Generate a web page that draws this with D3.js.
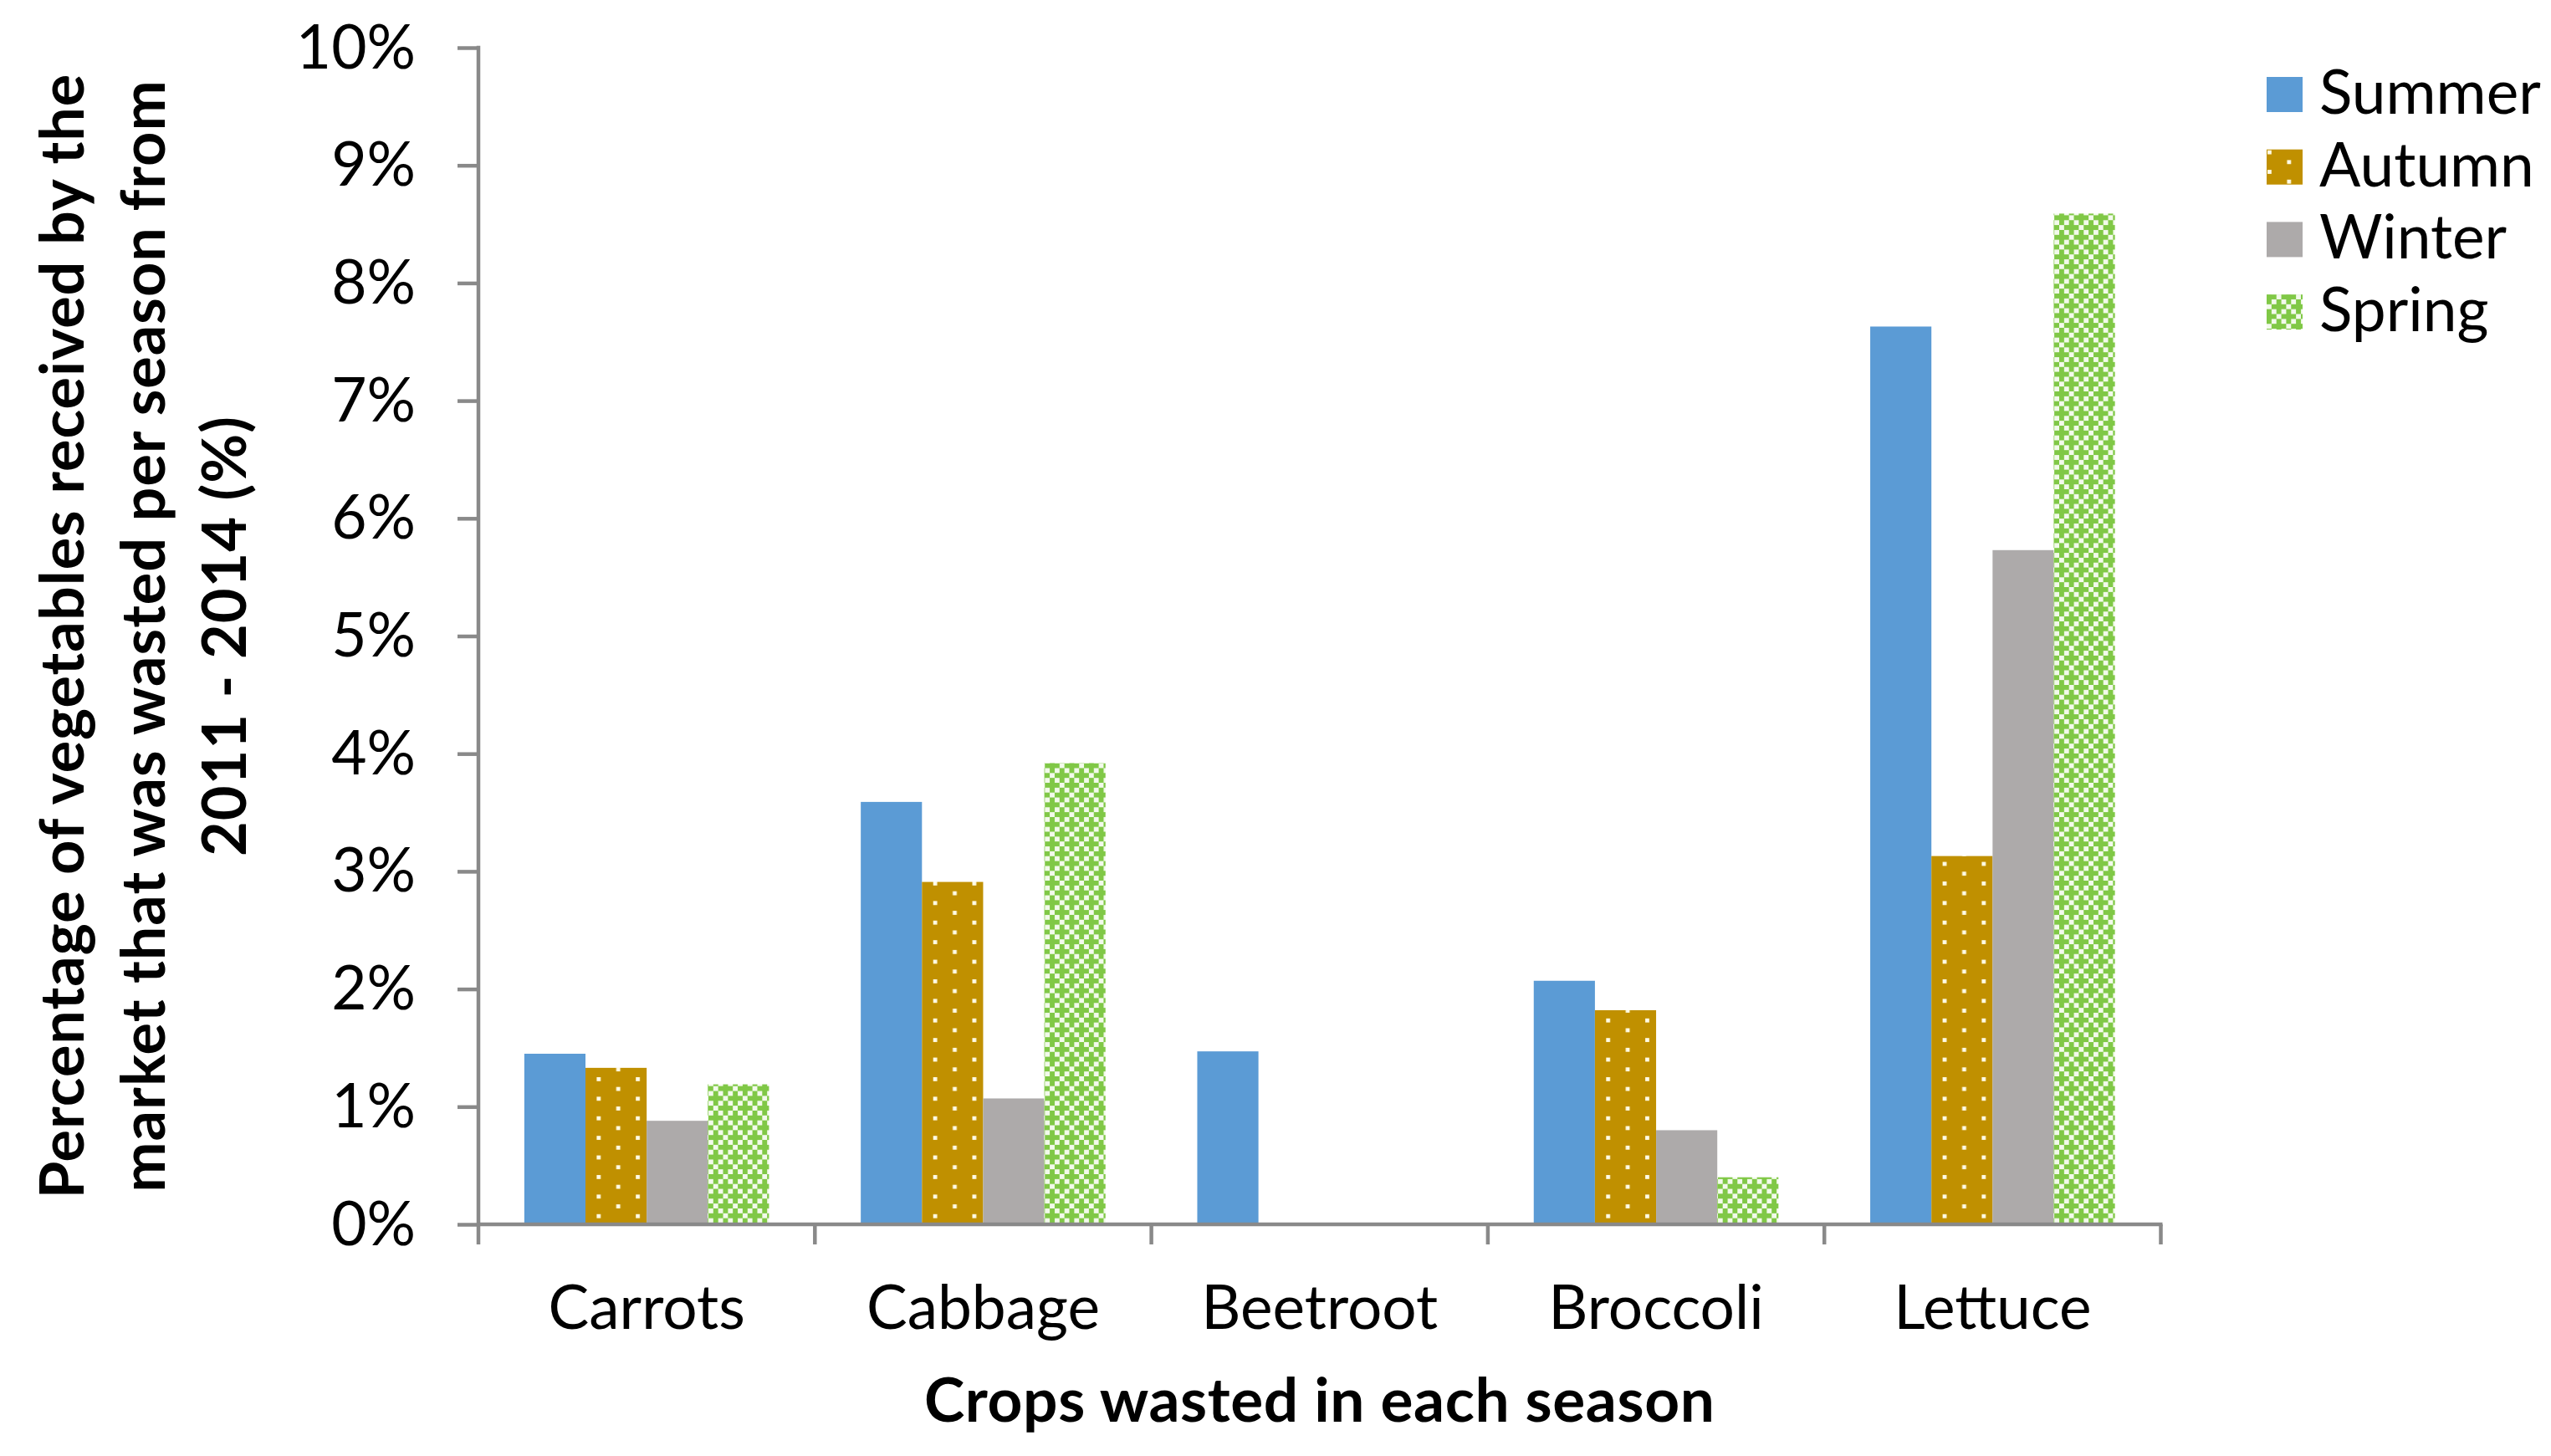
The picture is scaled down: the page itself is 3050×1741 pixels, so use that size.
<!DOCTYPE html>
<html>
<head>
<meta charset="utf-8">
<script src="https://cdn.jsdelivr.net/npm/d3@7"></script>
<style>
  html, body { margin: 0; padding: 0; background: #ffffff; }
  svg { display: block; }
  text { font-family: Lato, "Open Sans", sans-serif; fill: #000; }
</style>
</head>
<body>
<svg id="chart" width="3050" height="1741"></svg>
<script>
// ---- data ----
const categories = ["Carrots", "Cabbage", "Beetroot", "Broccoli", "Lettuce"];
const seasons = ["Summer", "Autumn", "Winter", "Spring"];
const summer = [0.0145, 0.0359, 0.0147, 0.0207, 0.0763];
const autumn = [0.0133, 0.0291, 0.0000, 0.0182, 0.0313];
const winter = [0.0088, 0.0107, 0.0001, 0.0080, 0.0573];
const spring = [0.0119, 0.0392, 0.0000, 0.0040, 0.0859];
const yTickValues = [0, 0.01, 0.02, 0.03, 0.04, 0.05, 0.06, 0.07, 0.08, 0.09, 0.10];
const yTickLabels = ["0%", "1%", "2%", "3%", "4%", "5%", "6%", "7%", "8%", "9%", "10%"];
const yTitleLines = ["Percentage of vegetables received by the", "market that was wasted per season from", "2011 - 2014 (%)"];
const xTitle = "Crops wasted in each season";

const seriesValues = [summer, autumn, winter, spring];
const table = categories.map((c, i) => ({
  category: c,
  values: seasons.map((s, j) => ({ season: s, value: seriesValues[j][i] }))
}));

// ---- layout ----
const plot = { left: 572, right: 2583.5, top: 57, bottom: 1464 };
const axisColor = "#898989";
const svg = d3.select("#chart");

const defs = svg.append("defs");
const u = 5.85;
// Autumn: dotted pattern
const pa = defs.append("pattern").attr("id", "pAutumn")
  .attr("patternUnits", "userSpaceOnUse").attr("width", 8 * u).attr("height", 4 * u);
pa.append("rect").attr("width", 8 * u).attr("height", 4 * u).attr("fill", "#C09000");
pa.append("rect").attr("x", 1).attr("y", 1).attr("width", 4.8).attr("height", 4.8).attr("fill", "#FFFBE6");
pa.append("rect").attr("x", 4 * u + 1).attr("y", 2 * u + 1).attr("width", 4.8).attr("height", 4.8).attr("fill", "#FFFBE6");
// Spring: cross / checker pattern
const ps = defs.append("pattern").attr("id", "pSpring")
  .attr("patternUnits", "userSpaceOnUse").attr("width", 4 * u).attr("height", 4 * u);
ps.append("rect").attr("width", 4 * u).attr("height", 4 * u).attr("fill", "#F3FAEC");
const greenCells = [[0,0],[1,0],[3,0],[0,1],[0,3],[2,2],[1,2],[3,2],[2,1],[2,3]];
greenCells.forEach(([cx, cy]) => {
  ps.append("rect").attr("x", cx * u).attr("y", cy * u).attr("width", u + 0.05).attr("height", u + 0.05).attr("fill", "#80C846");
});

const fills = { Summer: "#5B9BD5", Autumn: "url(#pAutumn)", Winter: "#ADAAAA", Spring: "url(#pSpring)" };

// ---- scales ----
const x0 = d3.scaleBand().domain(categories).range([plot.left, plot.right]).paddingInner(0).paddingOuter(0);
const bw = x0.bandwidth();
const gapHalf = bw * (1.5 / 5.5) / 2;
const x1 = d3.scaleBand().domain(seasons).range([gapHalf, bw - gapHalf]).padding(0);
const y = d3.scaleLinear().domain([0, 0.10]).range([plot.bottom, plot.top]);

// ---- bars ----
const groups = svg.append("g").selectAll("g").data(table).join("g")
  .attr("transform", d => `translate(${x0(d.category)},0)`);
groups.selectAll("rect").data(d => d.values).join("rect")
  .attr("x", d => x1(d.season))
  .attr("width", x1.bandwidth())
  .attr("y", d => y(d.value))
  .attr("height", d => y(0) - y(d.value))
  .attr("fill", d => fills[d.season]);

// ---- y axis ----
const yAxis = d3.axisLeft(y).tickValues(yTickValues)
  .tickFormat((d, i) => yTickLabels[i]).tickSize(25).tickPadding(50);
const gy = svg.append("g").attr("transform", `translate(${plot.left},0)`).call(yAxis);
gy.select(".domain").remove();
gy.selectAll(".tick line").attr("stroke", axisColor).attr("stroke-width", 4.5);
gy.selectAll(".tick text").attr("font-size", 73).attr("dy", "0.33em")
  .attr("font-family", "Lato, sans-serif").attr("fill", "#000");
gy.append("line").attr("x1", 0).attr("x2", 0).attr("y1", plot.top - 2.25).attr("y2", plot.bottom + 24)
  .attr("stroke", axisColor).attr("stroke-width", 4.5);

// ---- x axis ----
const xAxis = d3.axisBottom(x0).tickSize(0).tickPadding(0);
const gx = svg.append("g").attr("transform", `translate(0,${plot.bottom})`).call(xAxis);
gx.select(".domain").remove();
gx.selectAll(".tick text").attr("font-size", 73).attr("y", 125).attr("dy", 0)
  .attr("font-family", "Lato, sans-serif").attr("fill", "#000");
gx.append("line").attr("x1", plot.left).attr("x2", plot.right + 2)
  .attr("y1", 0).attr("y2", 0).attr("stroke", axisColor).attr("stroke-width", 4.5);
const boundaries = d3.range(categories.length + 1).map(i => plot.left + i * x0.step());
gx.selectAll(".boundary").data(boundaries.slice(1)).join("line").attr("class", "boundary")
  .attr("x1", d => d).attr("x2", d => d).attr("y1", 0).attr("y2", 24)
  .attr("stroke", axisColor).attr("stroke-width", 4.5);

// ---- axis titles ----
svg.append("text").attr("x", (plot.left + plot.right) / 2).attr("y", 1700)
  .attr("text-anchor", "middle").attr("font-size", 73).attr("letter-spacing", 0.6)
  .attr("font-weight", 700).text(xTitle);

const yt = svg.append("text").attr("transform", `translate(100,${(plot.top + plot.bottom) / 2}) rotate(-90)`)
  .attr("text-anchor", "middle").attr("font-size", 72).attr("letter-spacing", 1)
  .attr("font-weight", 700);
yTitleLines.forEach((line, i) => {
  yt.append("tspan").attr("x", 0).attr("y", i * 97).text(line);
});

// ---- legend ----
const legend = svg.append("g").attr("transform", "translate(2710,92)");
const li = legend.selectAll("g").data(seasons).join("g")
  .attr("transform", (d, i) => `translate(0,${i * 86.7})`);
li.append("rect").attr("width", 43).attr("height", 42).attr("fill", d => fills[d]);
li.append("text").attr("x", 63).attr("y", 44).attr("font-size", 73).text(d => d);
</script>
</body>
</html>
